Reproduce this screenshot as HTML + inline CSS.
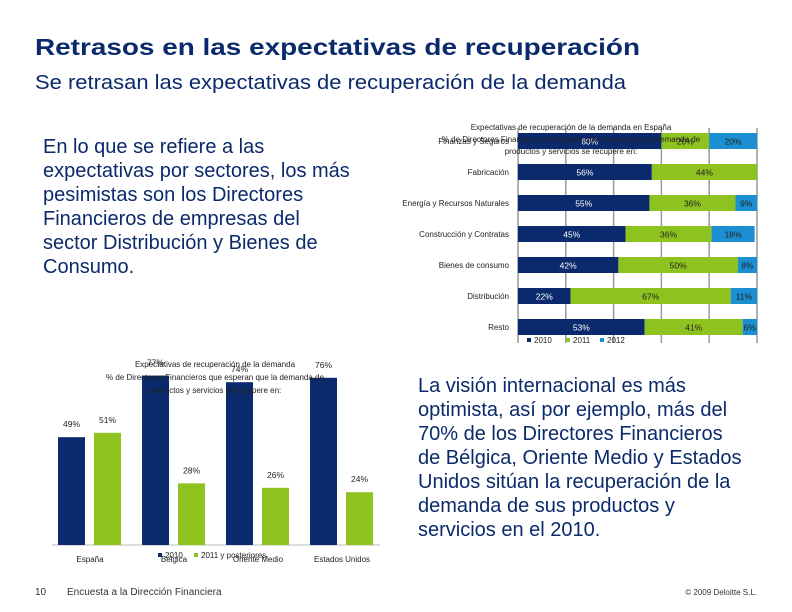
<!DOCTYPE html>
<html><head><meta charset="utf-8"><style>
body{margin:0;background:#fff}
svg{display:block;font-family:"Liberation Sans",sans-serif}
</style></head><body>
<svg width="792" height="612" viewBox="0 0 792 612">
<text x="35" y="55" font-size="23" font-weight="bold" fill="#0b2a6b" textLength="605" lengthAdjust="spacingAndGlyphs">Retrasos en las expectativas de recuperación</text>
<text x="35" y="89" font-size="20" fill="#0b2a6b" textLength="591" lengthAdjust="spacingAndGlyphs">Se retrasan las expectativas de recuperación de la demanda</text>
<g font-size="20" fill="#0b2a6b">
<text x="43" y="153">En lo que se refiere a las</text>
<text x="43" y="177">expectativas por sectores, los más</text>
<text x="43" y="201">pesimistas son los Directores</text>
<text x="43" y="225">Financieros de empresas del</text>
<text x="43" y="249">sector Distribución y Bienes de</text>
<text x="43" y="273">Consumo.</text>
</g>
<g font-size="20" fill="#0b2a6b">
<text x="418" y="392">La visión internacional es más</text>
<text x="418" y="416">optimista, así por ejemplo, más del</text>
<text x="418" y="440">70% de los Directores Financieros</text>
<text x="418" y="464">de  Bélgica, Oriente Medio y Estados</text>
<text x="418" y="488">Unidos sitúan la recuperación de la</text>
<text x="418" y="512">demanda de sus productos y</text>
<text x="418" y="536">servicios en el 2010.</text>
</g>
<g id="hchart"></g>
<g id="vchart"></g>
<text x="35" y="595" font-size="10" fill="#333">10</text>
<text x="67" y="595" font-size="10" fill="#333">Encuesta a la Dirección Financiera</text>
<text x="757" y="595" font-size="8" fill="#333" text-anchor="end">© 2009 Deloitte S.L.</text>
</svg>
<script>
const sectors=["Finanzas y Seguros","Fabricación","Energía y Recursos Naturales","Construcción y Contratas","Bienes de consumo","Distribución","Resto"];
const v2010=[60,56,55,45,42,22,53];
const v2011=[20,44,36,36,50,67,41];
const v2012=[20,0,9,18,8,11,6];
const countries=["España","Bélgica","Oriente Medio","Estados Unidos"];
const c2010=[49,77,74,76];
const c2011=[51,28,26,24];
const NS="http://www.w3.org/2000/svg";
const NAVY="#0b2a6e",GREEN="#8dc21f",BLUE="#1b8fd2";
function mk(tag,attrs,parent,txt){const e=document.createElementNS(NS,tag);for(const k in attrs)e.setAttribute(k,attrs[k]);if(txt!=null)e.textContent=txt;parent.appendChild(e);return e;}
const h=document.getElementById('hchart');
const x0=518,x1=757;const xs=p=>x0+(x1-x0)*p/100;
const yc=i=>141+31*i;
for(let g=0;g<=100;g+=20){const l=mk('line',{x1:xs(g),x2:xs(g),y1:128,y2:343,stroke:'#999','stroke-width':1.5},h);

}
const series=[[v2010,NAVY,'#fff','2010'],[v2011,GREEN,'#222','2011'],[v2012,BLUE,'#222','2012']];
sectors.forEach((s,i)=>{
  const t=mk('text',{x:509,y:yc(i)+3,'font-size':8,'text-anchor':'end',fill:'#222'},h,s);
  
  
  let acc=0;
  series.forEach(([arr,col,tc,yr])=>{
    const v=arr[i];if(!v)return;
    const r=mk('rect',{x:xs(acc),y:yc(i)-8,width:xs(acc+v)-xs(acc),height:16,fill:col},h);
    
    
    const lb=mk('text',{x:(xs(acc)+xs(acc+v))/2,y:yc(i)+3.5,'font-size':8.5,'text-anchor':'middle',fill:tc},h,v+'%');
    
    
    acc+=v;});
});
const ht=mk('g',{'font-size':8,'text-anchor':'middle',fill:'#222'},h);


mk('text',{x:571,y:130},ht,'Expectativas de recuperación de la demanda en España');
mk('text',{x:571,y:142},ht,'% de Directores Financieros de España que esperan que la demanda de');
mk('text',{x:571,y:154},ht,'productos y servicios se recupere en:');
[['2010',NAVY,527],['2011',GREEN,566],['2012',BLUE,600]].forEach(([n,c,x])=>{
  const r=mk('rect',{x:x,y:338,width:4,height:4,fill:c},h);
  
  
  const t=mk('text',{x:x+7,y:343,'font-size':8,fill:'#222'},h,n);
  
  });
const v=document.getElementById('vchart');
const base=545,k=2.2;const yv=p=>base-p*k;
const gx=i=>58+84*i;
const bl=mk('line',{x1:52,x2:380,y1:base,y2:base,stroke:'#bbb','stroke-width':1},v);


countries.forEach((c,i)=>{
  [[c2010,NAVY,0,'2010'],[c2011,GREEN,36,'2011']].forEach(([arr,col,off,yr])=>{
    const val=arr[i];
    const r=mk('rect',{x:gx(i)+off,y:yv(val),width:27,height:base-yv(val),fill:col},v);
    
    
    const t=mk('text',{x:gx(i)+off+13.5,y:yv(val)-10,'font-size':8.5,'text-anchor':'middle',fill:'#222'},v,val+'%');
    
    
  });
  const t=mk('text',{x:gx(i)+32,y:562,'font-size':8,'text-anchor':'middle',fill:'#222'},v,c);
  
  
});
const vt=mk('g',{'font-size':8,'text-anchor':'middle',fill:'#222'},v);


mk('text',{x:215,y:367},vt,'Expectativas de recuperación de la demanda');
mk('text',{x:215,y:380},vt,'% de Directores Financieros que esperan que la demanda de');
mk('text',{x:215,y:393},vt,'productos y servicios se recupere en:');
[['2010',NAVY,158],['2011 y posteriores',GREEN,194]].forEach(([n,c,x])=>{
  const r=mk('rect',{x:x,y:553,width:4,height:4,fill:c},v);
  
  
  const t=mk('text',{x:x+7,y:558,'font-size':8,fill:'#222'},v,n);
  
  });
</script>
</body></html>
